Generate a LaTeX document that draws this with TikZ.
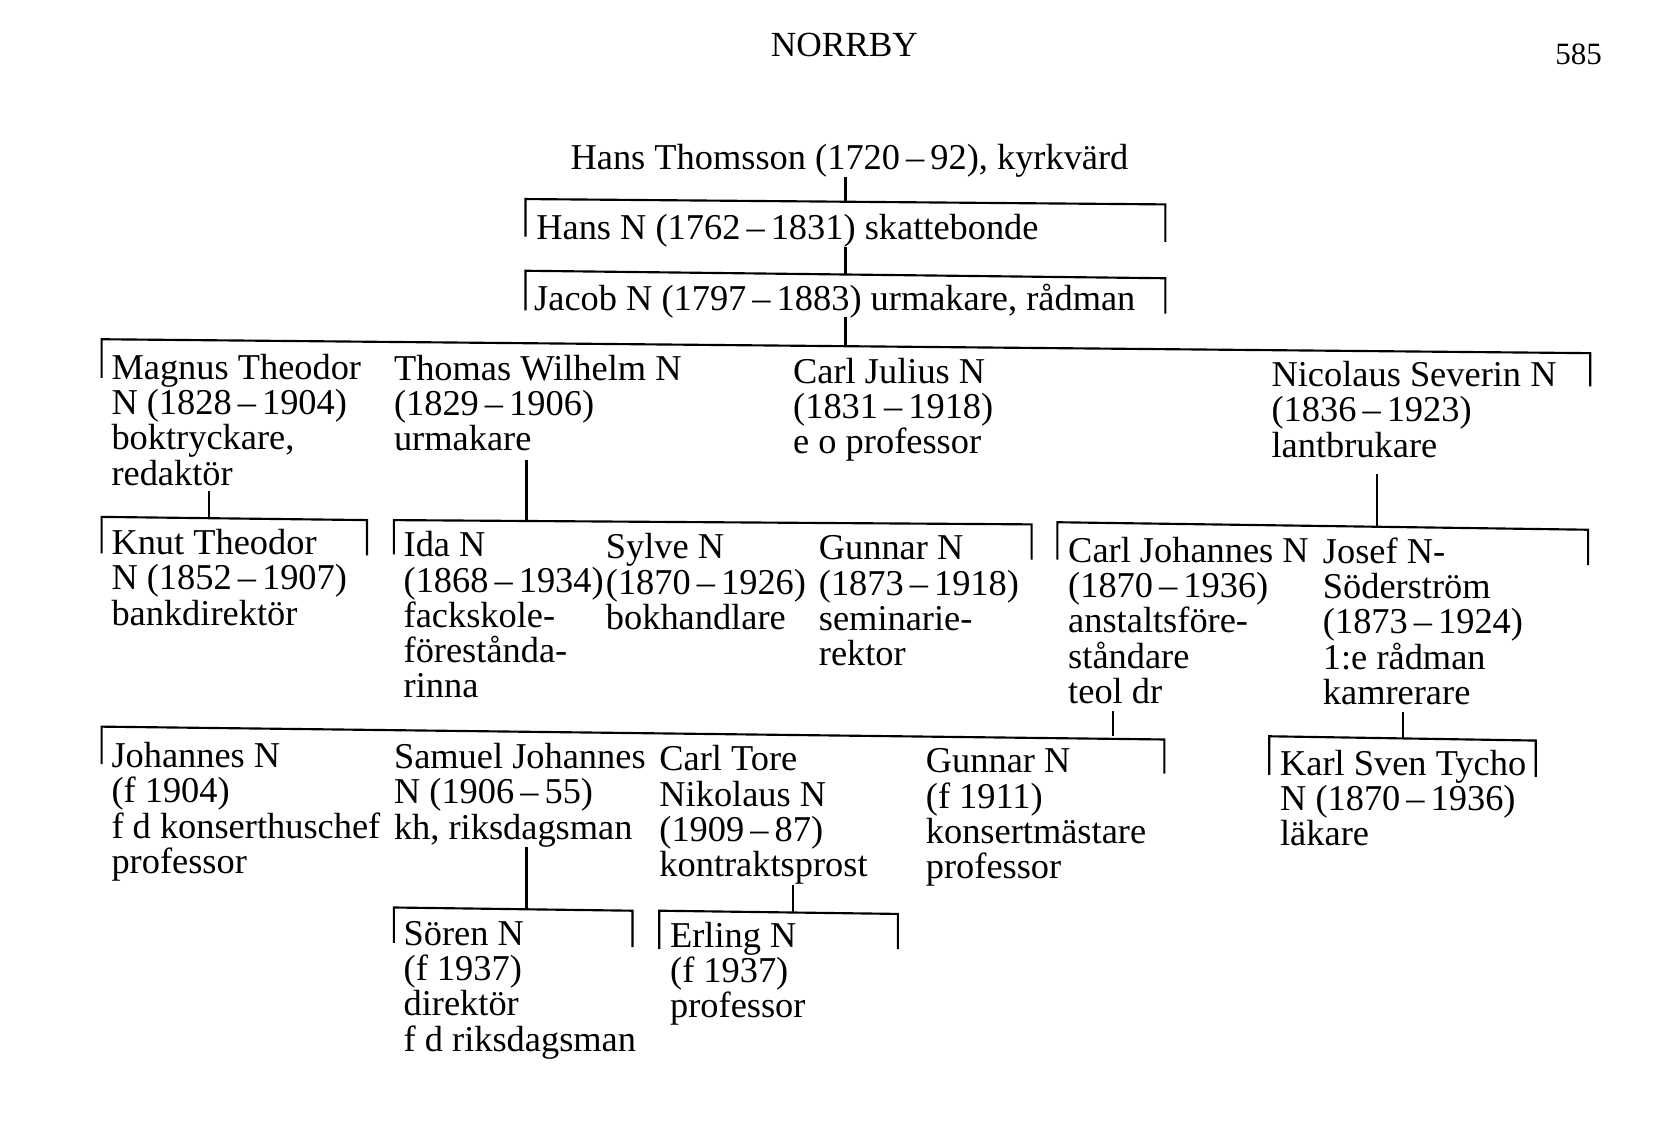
\documentclass[tikz,border=0pt]{standalone}
\usepackage{fontspec}
\setmainfont{Liberation Serif}
\newcommand{\dsh}{\,–\,}
\newcommand{\fl}{\rule{0pt}{27pt}}
\begin{document}
\begin{tikzpicture}[x=1pt,y=-1pt,
  person/.style={anchor=north west, inner sep=0pt, align=left, font=\fontsize{34}{33}\selectfont},
  link/.style={line width=2pt, line cap=rect}]
\useasboundingbox[fill=white] (0,0) rectangle (1568,1063);

% headings
\node[anchor=base, inner sep=0pt, font=\fontsize{33}{33}\selectfont] (title) at (789,53) {NORRBY};
\node[anchor=base east, inner sep=0pt, font=\fontsize{29}{33}\selectfont] (page) at (1497,60) {585};

% people (positions are first baseline minus 27)
\node[person] (hans0) at (533,131) {\fl Hans Thomsson (1720\dsh 92), kyrkvärd};
\node[person] (hansN) at (501,197) {\fl Hans N (1762\dsh 1831) skattebonde};
\node[person] (jacob) at (499,263) {\fl Jacob N (1797\dsh 1883) urmakare, rådman};

\node[person] (magnus) at (104,327) {\fl Magnus Theodor\\N (1828\dsh 1904)\\boktryckare,\\redaktör};
\node[person] (thomas) at (368,328) {\fl Thomas Wilhelm N\\(1829\dsh 1906)\\urmakare};
\node[person] (carlj) at (741,331) {\fl Carl Julius N\\(1831\dsh 1918)\\e o professor};
\node[person] (nicolaus) at (1188,334) {\fl Nicolaus Severin N\\(1836\dsh 1923)\\lantbrukare};

\node[person] (knut) at (104,491) {\fl Knut Theodor\\N (1852\dsh 1907)\\bankdirektör};
\node[person] (ida) at (377,493) {\fl Ida N\\(1868\dsh 1934)\\fackskole-\\förestånda-\\rinna};
\node[person] (sylve) at (566,495) {\fl Sylve N\\(1870\dsh 1926)\\bokhandlare};
\node[person] (gunnarA) at (765,496) {\fl Gunnar N\\(1873\dsh 1918)\\seminarie-\\rektor};
\node[person] (carljoh) at (998,498) {\fl Carl Johannes N\\(1870\dsh 1936)\\anstaltsföre-\\ståndare\\teol dr};
\node[person] (josef) at (1236,499) {\fl Josef N-\\Söderström\\(1873\dsh 1924)\\1:e rådman\\kamrerare};

\node[person] (johannes) at (104,690) {\fl Johannes N\\(f 1904)\\f d konserthuschef\\professor};
\node[person] (samuel) at (368,691) {\fl Samuel Johannes\\N (1906\dsh 55)\\kh, riksdagsman};
\node[person] (carltore) at (616,693) {\fl Carl Tore\\Nikolaus N\\(1909\dsh 87)\\kontraktsprost};
\node[person] (gunnarB) at (865,695) {\fl Gunnar N\\(f 1911)\\konsertmästare\\professor};
\node[person] (karl) at (1196,697) {\fl Karl Sven Tycho\\N (1870\dsh 1936)\\läkare};

\node[person] (soren) at (377,856) {\fl Sören N\\(f 1937)\\direktör\\f d riksdagsman};
\node[person] (erling) at (626,858) {\fl Erling N\\(f 1937)\\professor};

% bracket junction points (stem foot on the bracket)
\coordinate (j1) at (790,188);
\coordinate (j2) at (790,256);
\coordinate (j3) at (790,323);
\coordinate (j4) at (195,484);
\coordinate (j5) at (492,487);
\coordinate (j6) at (1287,492);
\coordinate (j7) at (1040,687);
\coordinate (j8) at (1311,690);
\coordinate (j9) at (492,849);
\coordinate (j10) at (741,852);

% stems from parents
\draw[link] (j1 |- hans0.south) ++(0,1) -- (j1);
\draw[link] (j2 |- hansN.south) -- (j2);
\draw[link] (j3 |- jacob.south) -- (j3);
\draw[link] (j4 |- magnus.south) ++(0,6) -- (j4);
\draw[link] (j5 |- thomas.south) ++(0,9) -- (j5);
\draw[link] (j6 |- nicolaus.south) ++(0,16) -- (j6);
\draw[link] (j7 |- carljoh.south) ++(0,8) -- (j7);
\draw[link] (j8 |- josef.south) ++(0,8) -- (j8);
\draw[link] (j9 |- samuel.south) ++(0,1) -- (j9);
\draw[link] (j10 |- carltore.south) ++(0,1) -- (j10);

% brackets over children
\draw[link] (491,220) -- (491,186) -- (1089,191) -- (1089,225);
\draw[link] (491,289) -- (491,253) -- (1089,260) -- (1089,292);
\draw[link] (95,352) -- (95,317) -- (1486,330) -- (1486,360);
\draw[link] (95,516) -- (95,483) -- (343,486) -- (343,518);
\draw[link] (368,517) -- (368,486) -- (964,490) -- (964,522);
\draw[link] (988,522) -- (988,488) -- (1484,495) -- (1484,527);
\draw[link] (95,713) -- (95,679) -- (1088,691) -- (1088,722);
\draw[link] (1186,723) -- (1186,688) -- (1435,692) -- (1435,725);
\draw[link] (368,880) -- (368,848) -- (591,851) -- (591,884);
\draw[link] (616,886) -- (616,851) -- (839,854) -- (839,886);
\end{tikzpicture}
\end{document}
